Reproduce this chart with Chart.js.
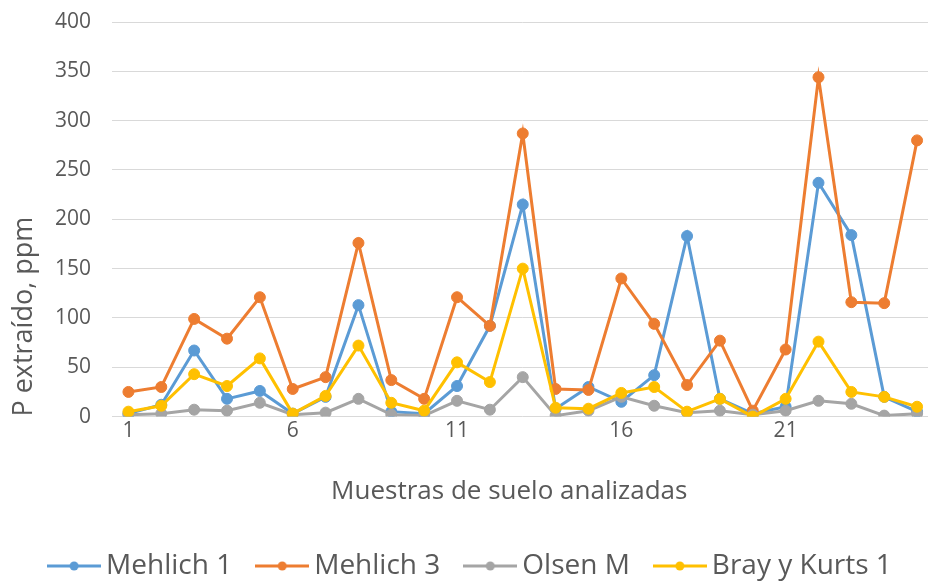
<!DOCTYPE html>
<html>
<head>
<meta charset="utf-8">
<script src="https://cdn.jsdelivr.net/npm/chart.js@4.4.0/dist/chart.umd.min.js"></script>
<style>
  html, body { margin: 0; padding: 0; background: #fff; overflow: hidden; width: 928px; height: 584px; }
  /* plot runs a little past the right edge, as in the original */
  #p-chart { display: block; width: 940px; height: 584px; }
</style>
</head>
<body>
<canvas id="p-chart" width="940" height="584"></canvas>
<script>
// soil samples 1..25
const samples = ['1', '2', '3', '4', '5', '6', '7', '8', '9', '10', '11', '12', '13',
    '14', '15', '16', '17', '18', '19', '20', '21', '22', '23', '24', '25'];

const mehlich1 = [3, 12, 67, 18, 26, 3, 20, 113, 5, 3, 31, 92, 215, 8, 30, 15, 42, 183, 18, 3, 10, 237, 184, 20, 5];
const mehlich3 = [25, 30, 99, 79, 121, 28, 40, 176, 37, 18, 121, 92, 287, 28, 27, 140, 94, 32, 77, 6, 68, 344, 116, 115, 280];
const olsenM = [2, 3, 7, 6, 14, 2, 4, 18, 2, 1, 16, 7, 40, 1, 6, 20, 11, 4, 6, 2, 6, 16, 13, 1, 3];
const brayKurts1 = [5, 11, 43, 31, 59, 3, 21, 72, 14, 6, 55, 35, 150, 9, 8, 24, 30, 5, 18, 0, 18, 76, 25, 20, 10];

const seriesNames = ['Mehlich 1', 'Mehlich 3', 'Olsen M', 'Bray y Kurts 1'];
const colors = ['#5B9BD5', '#ED7D31', '#A5A5A5', '#FFC000'];

const textColor = '#595959';
const fontFamily = '"Open Sans", "Noto Sans", sans-serif';

// little line-with-dot image for the legend
function legendMarker(color) {
    const c = document.createElement('canvas');
    c.width = 54;
    c.height = 14;
    const g = c.getContext('2d');
    g.strokeStyle = color;
    g.lineWidth = 3;
    g.beginPath();
    g.moveTo(0, 7);
    g.lineTo(54, 7);
    g.stroke();
    g.fillStyle = color;
    g.beginPath();
    g.arc(27, 7, 4.5, 0, Math.PI * 2);
    g.fill();
    return c;
}
const markers = colors.map(legendMarker);

function makeSet(i, values) {
    return {
        label: seriesNames[i],
        data: values,
        borderColor: colors[i],
        backgroundColor: colors[i],
        pointBackgroundColor: colors[i],
        pointBorderColor: colors[i],
        borderWidth: 3,
        pointRadius: 5.5,
        pointBorderWidth: 1,
        tension: 0,
        order: 4 - i   // later series on top, like the original
    };
}

const chartData = {
    labels: samples,
    datasets: [
        makeSet(0, mehlich1),
        makeSet(1, mehlich3),
        makeSet(2, olsenM),
        makeSet(3, brayKurts1)
    ]
};

const chartOptions = {
    responsive: false,
    animation: false,
    devicePixelRatio: 1,
    layout: {
        padding: { top: 22, left: 8, right: 0, bottom: -6 }
    },
    scales: {
        x: {
            offset: true,
            grid: { display: false, drawTicks: false },
            border: { display: false },
            ticks: {
                autoSkip: false,
                maxRotation: 0,
                padding: 2,
                color: textColor,
                font: { family: fontFamily, size: 21 },
                callback: function (v, i) {
                    return i % 5 === 0 ? samples[i] : '';
                }
            },
            title: {
                display: true,
                text: 'Muestras de suelo analizadas    ',
                color: textColor,
                font: { family: fontFamily, size: 26 },
                padding: { top: 30, bottom: 13 }
            },
            afterFit: function (scale) {
                scale.paddingLeft = 0;
                scale.paddingRight = 0;
            }
        },
        y: {
            min: 0,
            max: 400,
            grid: { color: '#D9D9D9', lineWidth: 1, drawTicks: false },
            border: { display: false },
            ticks: {
                stepSize: 50,
                padding: 21,
                color: textColor,
                font: { family: fontFamily, size: 21 }
            },
            title: {
                display: true,
                text: 'P extraído, ppm',
                align: 'start',
                color: textColor,
                font: { family: fontFamily, size: 27 },
                padding: 0
            },
            afterFit: function (scale) {
                scale.width = 104;
                scale.paddingTop = 0;
                scale.paddingBottom = 0;
            }
        }
    },
    plugins: {
        legend: {
            position: 'bottom',
            labels: {
                usePointStyle: true,
                pointStyleWidth: 36,
                boxHeight: 14,
                padding: 32,
                color: textColor,
                font: { family: fontFamily, size: 28 },
                sort: (a, b) => a.datasetIndex - b.datasetIndex,
                generateLabels: function (chart) {
                    const items = Chart.defaults.plugins.legend.labels.generateLabels(chart);
                    items.forEach(it => {
                        it.pointStyle = markers[it.datasetIndex];
                    });
                    return items;
                }
            }
        },
        tooltip: { enabled: false }
    }
};

let pChart = new Chart(document.getElementById('p-chart'), {
    type: 'line',
    data: chartData,
    options: chartOptions
});
</script>
</body>
</html>
